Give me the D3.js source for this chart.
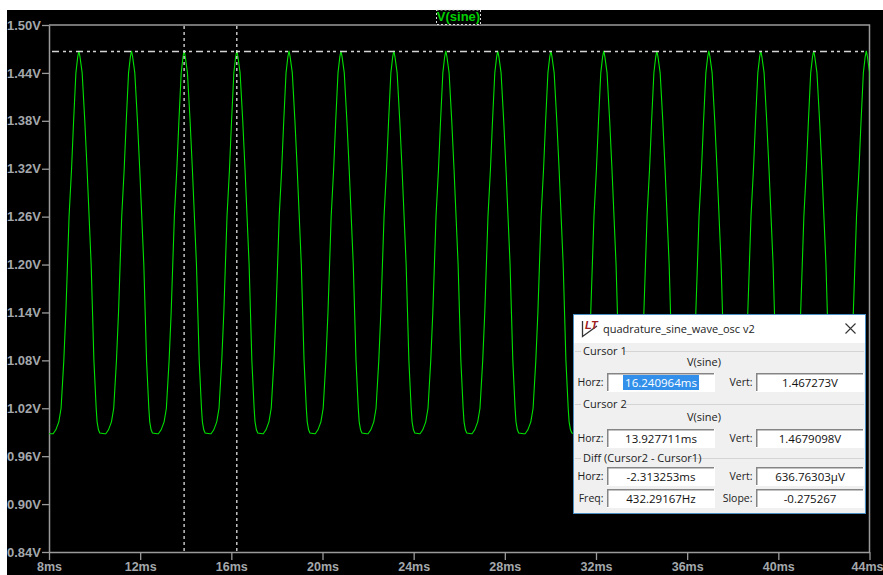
<!DOCTYPE html>
<html>
<head>
<meta charset="utf-8">
<script src="https://cdn.jsdelivr.net/npm/d3@7"></script>
<style>
  body { margin: 0; background: #fff; }
  svg { display: block; }
</style>
</head>
<body>
<div class="chart"></div>
<script>
// readings, time in ms and volts
var xTicks = [8, 12, 16, 20, 24, 28, 32, 36, 40, 44];
var xTickLabels = ["8ms", "12ms", "16ms", "20ms", "24ms", "28ms", "32ms", "36ms", "40ms", "44ms"];
var yTicks = [0.84, 0.90, 0.96, 1.02, 1.08, 1.14, 1.20, 1.26, 1.32, 1.38, 1.44, 1.50];
var yTickLabels = ["0.84V", "0.90V", "0.96V", "1.02V", "1.08V", "1.14V", "1.20V", "1.26V", "1.32V", "1.38V", "1.44V", "1.50V"];

// time of each peak in the trace
var peakMs = [9.31, 11.62, 13.93, 16.24, 18.53, 20.81, 23.13, 25.41, 27.69, 30.02, 32.34, 34.67, 36.95, 39.23, 41.55, 43.86];
// one pulse: ms from its peak, and the volts there
var pulseOffsetMs = [-1.13, -1.01, -0.88, -0.78, -0.66, -0.57, -0.50, -0.43, -0.32, -0.23, -0.13, -0.05, 0, 0.05, 0.145, 0.26, 0.36, 0.45, 0.54, 0.60, 0.66, 0.76, 0.80, 0.86, 0.92, 1.13];
var pulseVolts = [0.988, 0.993, 1.003, 1.02, 1.08, 1.14, 1.20, 1.26, 1.32, 1.38, 1.44, 1.46, 1.4675, 1.46, 1.44, 1.38, 1.32, 1.26, 1.20, 1.14, 1.08, 1.02, 1.003, 0.993, 0.989, 0.988];

var cursorMs = [16.240964, 13.927711];
var cursorVolts = [1.467273, 1.4679098];

var traceName = "V(sine)";
var dialogTitle = "quadrature_sine_wave_osc v2";
var cursor1Row = ["16.240964ms", "1.467273V"];
var cursor2Row = ["13.927711ms", "1.4679098V"];
var diffRow = ["-2.313253ms", "636.76303\u00b5V"];
var freqRow = ["432.29167Hz", "-0.275267"];

var width = 883, height = 575;
var margin = ({top: 25, right: 13.5, bottom: 23, left: 49});
var labelFont = "'Liberation Sans', Arial, sans-serif";
var dialogFont = "'Open Sans', 'Noto Sans', sans-serif";
var axisColor = "#9a9a9a", labelColor = "#a4a8ac", green = "#00e000";

var svg = d3.select(".chart")
  .append("svg")
    .attr("width", width)
    .attr("height", height);

svg.append("rect")
  .attr("x", 7).attr("y", 10)
  .attr("width", width - 7).attr("height", height - 10)
  .attr("fill", "#000");

const x = d3.scaleLinear().domain([8, 44]).range([margin.left, width - margin.right]);
const y = d3.scaleLinear().domain([0.84, 1.50]).range([height - margin.bottom, margin.top]);

svg.append("defs").append("clipPath").attr("id", "plot")
  .append("rect")
    .attr("x", margin.left).attr("y", margin.top)
    .attr("width", width - margin.left - margin.right)
    .attr("height", height - margin.top - margin.bottom);

// axes
function styleAxis(g) {
  g.selectAll("line").attr("stroke", axisColor).attr("stroke-width", 1.3);
  g.select(".domain").attr("stroke", axisColor).attr("stroke-width", 1.5);
  g.selectAll("text")
    .attr("fill", labelColor)
    .attr("font-family", labelFont)
    .attr("font-weight", "bold")
    .attr("font-size", 13);
}

svg.append("g")
  .attr("transform", `translate(${margin.left},0)`)
  .call(d3.axisLeft(y).tickValues(yTicks).tickSize(7).tickSizeOuter(0).tickPadding(1)
    .tickFormat((d, i) => yTickLabels[i]))
  .call(styleAxis);

var xAxis = svg.append("g")
  .attr("transform", `translate(0,${height - margin.bottom})`)
  .call(d3.axisBottom(x).tickValues(xTicks).tickSize(8).tickSizeOuter(0).tickPadding(2)
    .tickFormat((d, i) => xTickLabels[i]))
  .call(styleAxis);
xAxis.selectAll("text").attr("font-size", 12.5);
// last label sits against the window edge
xAxis.selectAll("text").filter(d => d == 44).attr("dx", -2.5);

// top and right edge of the plot box
svg.append("path")
  .attr("d", `M${x(8)},${y(1.5)}H${x(44)}V${y(0.84)}`)
  .attr("fill", "none")
  .attr("stroke", axisColor)
  .attr("stroke-width", 1.5);

// trace
var trace = [{t: 8, v: 0.988}];
peakMs.forEach(function(p) {
  pulseOffsetMs.forEach(function(o, i) {
    trace.push({t: p + o, v: pulseVolts[i]});
  });
});

var line = d3.line().x(d => x(d.t)).y(d => y(d.v));

svg.append("path")
  .datum(trace)
  .attr("clip-path", "url(#plot)")
  .attr("d", line)
  .attr("fill", "none")
  .attr("stroke", green)
  .attr("stroke-width", 1.1);

// cursors
svg.selectAll(".vcursor")
  .data(cursorMs)
  .join("line")
    .attr("class", "vcursor")
    .attr("x1", d => x(d)).attr("x2", d => x(d))
    .attr("y1", margin.top + 1).attr("y2", height - margin.bottom)
    .attr("stroke", "#f2f2f2")
    .attr("stroke-width", 1.2)
    .attr("stroke-dasharray", "3,3");

// the two horizontal cursors overlap, their dashes together give the dash-dot-dot look
svg.selectAll(".hcursor")
  .data(cursorVolts)
  .join("line")
    .attr("class", "hcursor")
    .attr("x1", x(8) + 3).attr("x2", x(44) - 3)
    .attr("y1", d => Math.round(y(d)) + 0.5).attr("y2", d => Math.round(y(d)) + 0.5)
    .attr("stroke", "#d4d4d4")
    .attr("stroke-width", 1.3)
    .attr("stroke-dasharray", (d, i) => i == 0 ? "7,17" : "3,3,3,15")
    .attr("stroke-dashoffset", (d, i) => i == 0 ? 0 : -11);

// trace name on top with its dashed selection box
svg.append("rect")
  .attr("x", 436.5).attr("y", 10)
  .attr("width", 44).attr("height", 14.5)
  .attr("fill", "#000")
  .attr("stroke", "#ddd")
  .attr("stroke-dasharray", "2,2");
svg.append("text")
  .attr("x", 458.5).attr("y", 20.5)
  .attr("text-anchor", "middle")
  .attr("font-family", labelFont)
  .attr("font-weight", "bold")
  .attr("font-size", 13)
  .attr("fill", "#00d000")
  .text(traceName);

// cursor readout window
var win = svg.append("g");

win.append("rect")
  .attr("x", 573.5).attr("y", 314.5)
  .attr("width", 292).attr("height", 199)
  .attr("fill", "#f0f0f0")
  .attr("stroke", "#4a8fc4");
win.append("rect")
  .attr("x", 574).attr("y", 315)
  .attr("width", 291).attr("height", 28)
  .attr("fill", "#fff");

win.append("path")
  .attr("d", "M582.5,321V336.5L597,326")
  .attr("fill", "none")
  .attr("stroke", "#333")
  .attr("stroke-width", 1.3);
win.append("text")
  .attr("x", 585).attr("y", 329)
  .attr("font-family", labelFont)
  .attr("font-weight", "bold")
  .attr("font-style", "italic")
  .attr("font-size", 11)
  .attr("fill", "#a02020")
  .text("LT");
win.append("text")
  .attr("x", 603).attr("y", 333)
  .attr("font-family", dialogFont)
  .attr("font-size", 11)
  .attr("fill", "#222")
  .text(dialogTitle);
win.append("path")
  .attr("d", "M845.5,323.5L855.5,333.5M855.5,323.5L845.5,333.5")
  .attr("stroke", "#333")
  .attr("stroke-width", 1.1);

function groupLabel(label, gy, textEnd) {
  win.append("line")
    .attr("x1", 575).attr("x2", 581)
    .attr("y1", gy + 0.5).attr("y2", gy + 0.5)
    .attr("stroke", "#d4d4d4");
  win.append("line")
    .attr("x1", textEnd).attr("x2", 864)
    .attr("y1", gy + 0.5).attr("y2", gy + 0.5)
    .attr("stroke", "#d4d4d4");
  win.append("text")
    .attr("x", 583).attr("y", gy + 4)
    .attr("font-family", dialogFont)
    .attr("font-size", 11)
    .attr("fill", "#222")
    .text(label);
}

function fieldLabel(label, lx, cy) {
  win.append("text")
    .attr("x", lx).attr("y", cy + 3)
    .attr("text-anchor", "end")
    .attr("font-family", dialogFont)
    .attr("font-size", 10.5)
    .attr("fill", "#222")
    .text(label);
}

function field(value, bx, by, selected) {
  win.append("rect")
    .attr("x", bx).attr("y", by)
    .attr("width", 108).attr("height", 19)
    .attr("fill", "#fff");
  // sunken edge on top and left only
  win.append("path")
    .attr("d", `M${bx + 0.75},${by + 18}V${by + 0.75}H${bx + 107}`)
    .attr("fill", "none")
    .attr("stroke", "#858585")
    .attr("stroke-width", 1.5);
  if (selected) {
    win.append("rect")
      .attr("x", bx + 16).attr("y", by + 2)
      .attr("width", 76).attr("height", 15)
      .attr("fill", "#3390ea");
  }
  win.append("text")
    .attr("x", bx + 54).attr("y", by + 13.5)
    .attr("text-anchor", "middle")
    .attr("font-family", dialogFont)
    .attr("font-size", 11.5)
    .attr("fill", selected ? "#fff" : "#111")
    .text(value);
}

function signalName(cy) {
  win.append("text")
    .attr("x", 704).attr("y", cy + 4)
    .attr("text-anchor", "middle")
    .attr("font-family", dialogFont)
    .attr("font-size", 11)
    .attr("fill", "#222")
    .text(traceName);
}

function row(names, values, by, selected) {
  fieldLabel(names[0], 603.5, by + 9.5);
  fieldLabel(names[1], 752.5, by + 9.5);
  field(values[0], 607, by, selected);
  field(values[1], 756, by, false);
}

groupLabel("Cursor 1", 351, 624);
signalName(362);
row(["Horz:", "Vert:"], cursor1Row, 373, true);

groupLabel("Cursor 2", 404, 624);
signalName(417);
row(["Horz:", "Vert:"], cursor2Row, 429, false);

groupLabel("Diff (Cursor2 - Cursor1)", 458, 689);
row(["Horz:", "Vert:"], diffRow, 467, false);
row(["Freq:", "Slope:"], freqRow, 489, false);
</script>
</body>
</html>
